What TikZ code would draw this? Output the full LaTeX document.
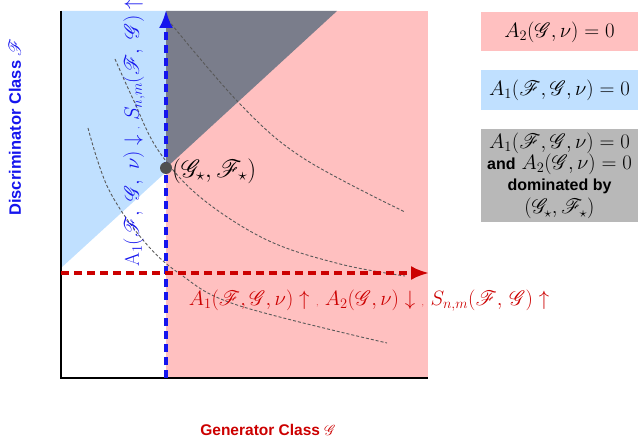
\documentclass[tikz,border=0pt]{standalone}
\usepackage{fontspec}
\usepackage{mathrsfs}
\usetikzlibrary{arrows.meta}
\newfontfamily\hvb{Liberation Sans}
\definecolor{pinkreg}{HTML}{FFC0C0}
\definecolor{bluereg}{HTML}{C0E0FF}
\definecolor{grayreg}{HTML}{7A7D8B}
\definecolor{legray}{HTML}{B8B8B8}
\definecolor{myred}{HTML}{CC0000}
\definecolor{myblue}{HTML}{1515EE}
\definecolor{dotgray}{HTML}{505050}
\newcommand{\sF}{\mathscr{F}}
\newcommand{\sG}{\mathscr{G}}
\tikzset{
  legbox/.style={minimum width=157pt, inner sep=0pt, align=center, font=\fontsize{21}{21.5}\selectfont},
  curve/.style={densely dashed, draw=black!65, line width=0.9pt},
  axisarrow/.style={dashed, dash pattern=on 8pt off 5pt, line width=3.2pt, -{Latex[length=18pt,width=14pt]}},
  axlabel/.style={font=\hvb\bfseries\fontsize{16.5}{19}\selectfont}
}
\begin{document}
\begin{tikzpicture}[x=1pt,y=-1pt]
\useasboundingbox (0,0) rectangle (640,438);
% regions
\fill[pinkreg] (166,11) rectangle (428,378);
\fill[bluereg] (61,11) -- (166,11) -- (166,172) -- (61,268) -- cycle;
\fill[grayreg] (166,11) -- (337,11) -- (166,168) -- cycle;
% curves
\draw[curve] plot[smooth, tension=0.6] coordinates {(168,20) (240,104) (303,158) (405,212)};
\draw[curve] plot[smooth, tension=0.6] coordinates {(115,59) (133,99) (158,150) (200,197) (267,240) (340,264) (405,276)};
\draw[curve] plot[smooth, tension=0.6] coordinates {(88,128) (108,188) (143,240) (180,274) (237,305) (387,343)};
% axes
\draw[line width=2pt] (61,11) -- (61,378) -- (428,378);
\coordinate (vb) at (166,378);
\coordinate (vt) at (166,10);
\coordinate (hl) at (61,273);
\coordinate (hr) at (429,273);
\draw[axisarrow, myblue] (vb) -- (vt);
\draw[axisarrow, myred] (hl) -- (hr);
% dot
\node[circle, fill=dotgray, minimum size=12pt, inner sep=0pt] (star) at (166,168) {};
\node[anchor=west, inner sep=0pt, font=\fontsize{23}{25}\selectfont] (starlab) at (172,171) {$(\sG_\star,\sF_\star)$};
% labels on arrows
\node[myred, font=\fontsize{21.5}{24}\selectfont, inner sep=0pt] (redlab) at (369,301)
  {$A_1(\sF,\sG,\nu)\uparrow$ {\footnotesize,} $A_2(\sG,\nu)\downarrow$ {\footnotesize,} $S_{n,m}(\sF,\,\sG)\uparrow$};
\node[myblue, rotate=90, font=\fontsize{20}{24}\selectfont, inner sep=0pt] (bluelab) at (134,133)
  {$\mathrm{A}_1(\sF,\ \sG,\ \nu)\downarrow$ {\footnotesize,} $S_{n,m}(\sF,\ \sG)\uparrow$};
% axis labels
\node[axlabel, myblue, rotate=90] (ylab) at (15,127) {Discriminator Class $\sF$};
\node[axlabel, myred, font=\hvb\bfseries\fontsize{15.5}{19}\selectfont] (xlab) at (268,430) {Generator Class $\sG$};
% legend
\node[legbox, fill=pinkreg, minimum height=39pt] (l1) at (559.5,32) {$A_2(\sG,\nu)=0$};
\node[legbox, fill=bluereg, minimum height=40pt] (l2) at (559.5,90) {$A_1(\sF,\sG,\nu)=0$};
\node[legbox, fill=legray, minimum height=93pt, font=\fontsize{20}{21}\selectfont] (l3) at (559.5,176)
  {$A_1(\sF,\sG,\nu)=0$\\ {\hvb\bfseries\fontsize{16}{18}\selectfont and} $A_2(\sG,\nu)=0$\\ {\hvb\bfseries\fontsize{16}{18}\selectfont dominated by}\\[2.5pt] $(\sG_\star,\sF_\star)$};
\end{tikzpicture}
\end{document}
